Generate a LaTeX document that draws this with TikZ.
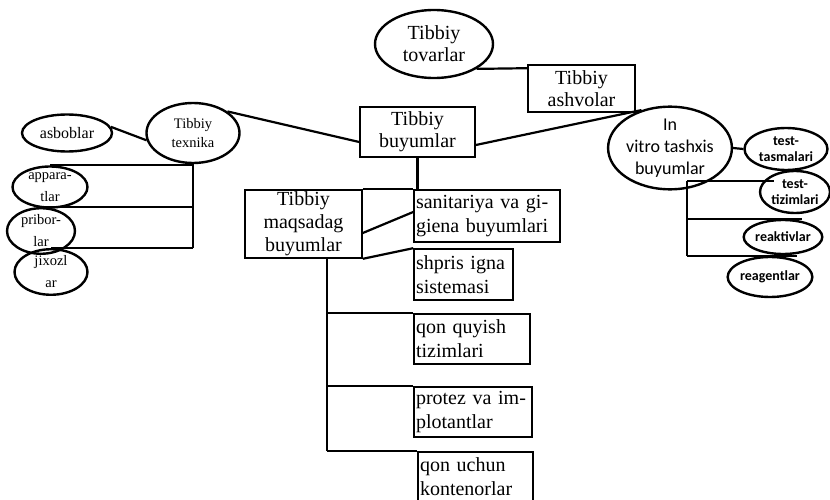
\documentclass[tikz,border=0pt]{standalone}
\usepackage{fontspec}
\setmainfont{Liberation Serif}
\newfontfamily\calfont{Carlito}
\usetikzlibrary{shapes.geometric,calc}
\tikzset{
  ov/.style={draw, ellipse, line width=2.4pt, inner sep=0pt, align=center},
  bx/.style={draw, rectangle, line width=1.6pt, inner sep=0pt},
  lbx/.style={draw, rectangle, line width=1.6pt, inner ysep=0pt, inner xsep=2pt, align=left},
  ln/.style={line width=2.2pt},
  big/.style={font=\fontsize{20}{22}\selectfont},
  bxf/.style={font=\fontsize{20}{24}\selectfont},
  sml/.style={font=\fontsize{14.5}{19}\selectfont},
  cal/.style={font=\calfont\bfseries\fontsize{14}{16}\selectfont},
}
\begin{document}
\begin{tikzpicture}[x=1pt,y=-1pt]
\useasboundingbox (0,0) rectangle (830,500);
% top
\node[ov,big,minimum width=118pt,minimum height=68pt] (tov) at (434,44) {Tibbiy\\tovarlar};
\node[bx,big,align=center,minimum width=107pt,minimum height=47pt] (ash) at (581.5,88.5) {Tibbiy\\ashvolar};
\node[bx,big,align=center,minimum width=115pt,minimum height=50pt] (buy) at (417.5,132) {Tibbiy\\buyumlar};
% left
\node[ov,sml,minimum width=93pt,minimum height=60pt] (tex) at (193,133) {Tibbiy\\texnika};
\node[ov,font=\fontsize{16}{18}\selectfont,minimum width=90pt,minimum height=37pt] (asb) at (67,133) {asboblar};
\node[ov,font=\fontsize{14.5}{22}\selectfont,minimum width=75pt,minimum height=41pt] (app) at (50,187) {appara-\\tlar};
\node[ov,font=\fontsize{14.5}{22}\selectfont,minimum width=68pt,minimum height=43pt] (pri) at (41,231) {pribor-\\lar};
\node[ov,font=\fontsize{14.5}{22}\selectfont,minimum width=73pt,minimum height=33pt] (jix) at (51,272) {jixozl\\ar};
% right
\node[ov,font=\calfont\fontsize{18}{22}\selectfont,minimum width=115pt,minimum height=72pt] (vit) at (670,148) {In\\vitro tashxis\\buyumlar};
\node[ov,cal,minimum width=83pt,minimum height=42pt] (tt) at (786,149) {test-\\tasmalari};
\node[ov,cal,minimum width=70pt,minimum height=42pt] (tz) at (795,192) {test-\\tizimlari};
\node[ov,cal,minimum width=75pt,minimum height=34pt] (rk) at (783,237) {reaktivlar};
\node[ov,cal,minimum width=80pt,minimum height=40pt] (rg) at (770,277) {reagentlar};
% centre
\node[bx,font=\fontsize{20}{23}\selectfont,align=center,minimum width=117pt,minimum height=68pt] (maq) at (303.5,224) {Tibbiy\\maqsadag\\buyumlar};
\node[lbx,bxf,text width=142pt,minimum height=52pt] (san) at (487,216) {sanitariya va gi-\\giena buyumlari};
\node[lbx,bxf,text width=95pt,minimum height=51pt] (shp) at (463.5,274.5) {shpris igna\\sistemasi};
\node[lbx,bxf,text width=112pt,minimum height=50pt] (qq) at (472,339) {qon quyish\\tizimlari};
\node[lbx,bxf,text width=114pt,minimum height=50pt] (pro) at (473,412) {protez va im-\\plotantlar};
\node[lbx,bxf,text width=111pt,minimum height=50pt] (qu) at (475.5,477) {qon uchun\\kontenorlar};
% coordinates
\coordinate (mv) at (327,258);
\coordinate (vb) at (687,181);
% connectors top
\draw[ln] (tov.south east) -- ($(ash.north west)+(0,4)$);
\draw[ln] ($(buy.west)+(0,10)$) -- (tex.32);
\draw[ln] ($(buy.east)+(0,13)$) -- (vit.127);
\draw[ln] (asb.8) -- (tex.189);
\draw[ln] (vit.east) -- (tt.west);
% left bracket
\draw[ln] (tex.south) -- (tex.south |- jix.north);
\draw[ln] (tex.south |- app.north) -- (app.north);
\draw[ln] (tex.south |- pri.north) -- (pri.north);
\draw[ln] (tex.south |- jix.north) -- (jix.north);
% right bracket
\draw[ln] (vb) -- (vb |- rg.north);
\draw[ln, shorten >=-15pt] (vb) -- (vb -| tz.west);
\draw[ln, shorten >=-19pt] (vb |- rk.north) -- (rk.north);
\draw[ln, shorten >=-27pt] (vb |- rg.north) -- (rg.north);
% centre
\draw[ln] (buy.south) -- (buy.south |- san.north);
\draw[ln] (maq.north east) -- (san.north west);
\draw[ln] ($(maq.east)+(0,9)$) -- ($(san.west)+(0,-4)$);
\draw[ln] (maq.south east) -- (shp.north west);
\draw[ln] (mv) -- (mv |- qu.north);
\draw[ln] (mv |- qq.north) -- (qq.north west);
\draw[ln] (mv |- pro.north) -- (pro.north west);
\draw[ln] (mv |- qu.north) -- (qu.north west);
\end{tikzpicture}
\end{document}
